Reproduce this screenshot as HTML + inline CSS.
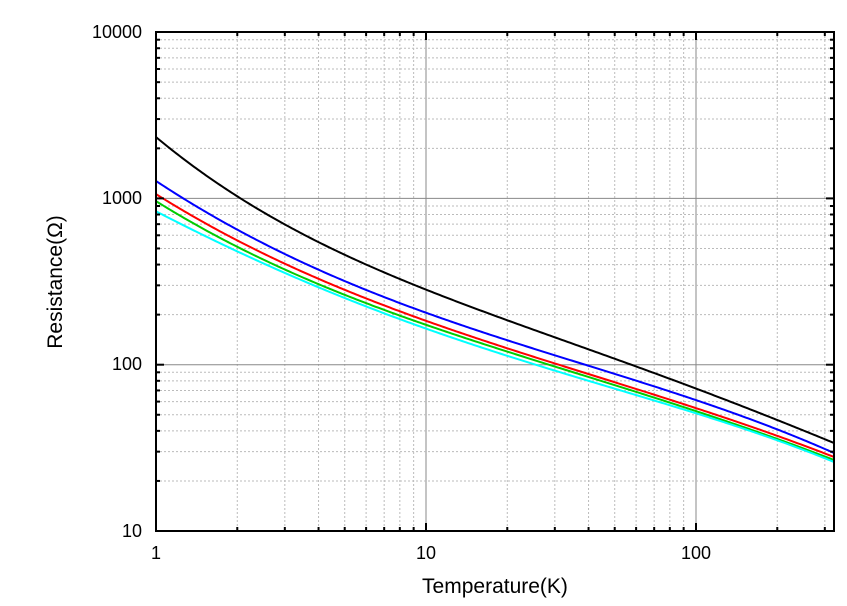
<!DOCTYPE html>
<html><head><meta charset="utf-8"><style>
body{margin:0;background:#fff;}
svg{display:block;font-family:"Liberation Sans",sans-serif;}
</style></head><body>
<svg id="s" width="847" height="606" viewBox="0 0 847 606" xmlns="http://www.w3.org/2000/svg">
<rect width="847" height="606" fill="#fff"/>
<g id="grid"></g>
<g id="curves" fill="none" stroke-width="2"></g>
<rect x="156" y="32" width="678" height="499" fill="none" stroke="#000" stroke-width="2"/>
<g id="ticks" stroke="#000" stroke-width="2"></g>
<g font-size="18" fill="#000" text-anchor="end">
<text x="142" y="38">10000</text>
<text x="142" y="204">1000</text>
<text x="142" y="370">100</text>
<text x="142" y="537">10</text>
</g>
<g font-size="18" fill="#000" text-anchor="middle">
<text x="156" y="559">1</text>
<text x="426" y="559">10</text>
<text x="696" y="559">100</text>
</g>
<text x="495" y="593" font-size="21" text-anchor="middle">Temperature(K)</text>
<text transform="translate(62,282) rotate(-90)" font-size="21" text-anchor="middle">Resistance(Ω)</text>
</svg>
<script>
var NS="http://www.w3.org/2000/svg";
function el(p,t,a){var e=document.createElementNS(NS,t);for(var k in a)e.setAttribute(k,a[k]);p.appendChild(e);return e;}
var X0=156,DX=270,Y0=531,DY=166.3,XR=834,YT=32;
var g=document.getElementById('grid'),tk=document.getElementById('ticks');
for(var d=0;d<3;d++)for(var m=1;m<10;m++){
 var x=X0+DX*(d+Math.log10(m));if(x>XR)continue;
 if(m==1){ if(d>0){el(g,'line',{x1:x,x2:x,y1:YT,y2:Y0,stroke:'#888','stroke-width':1});}
   el(tk,'line',{x1:x,x2:x,y1:Y0,y2:Y0-8});el(tk,'line',{x1:x,x2:x,y1:YT,y2:YT+8});}
 else{el(g,'line',{x1:x,x2:x,y1:YT,y2:Y0,stroke:'#bbb','stroke-width':1,'stroke-dasharray':'2,2'});
   el(tk,'line',{x1:x,x2:x,y1:Y0,y2:Y0-4});el(tk,'line',{x1:x,x2:x,y1:YT,y2:YT+4});}
}
for(var d=0;d<3;d++)for(var m=1;m<10;m++){
 var y=Y0-DY*(d+Math.log10(m));
 if(m==1){ if(d>0){el(g,'line',{x1:X0,x2:XR,y1:y,y2:y,stroke:'#888','stroke-width':1});}
   el(tk,'line',{x1:X0,x2:X0+8,y1:y,y2:y});el(tk,'line',{x1:XR,x2:XR-8,y1:y,y2:y});}
 else{el(g,'line',{x1:X0,x2:XR,y1:y,y2:y,stroke:'#bbb','stroke-width':1,'stroke-dasharray':'2,2'});
   el(tk,'line',{x1:X0,x2:X0+4,y1:y,y2:y});el(tk,'line',{x1:XR,x2:XR-4,y1:y,y2:y});}
}
var xs=[156,203,230,285,345,426,560,696,834];
var curves=[
 ['#000',[137,173,193,225,253,290,340,388,443]],
 ['#00f',[181,209,228,253,281,313,357,400,453]],
 ['#f00',[194,222,239,262,289,322,365,408,457]],
 ['#0c0',[201,229,245,268,294,326,368,411,460]],
 ['#0ff',[211,237,252,268,297,331,372,413,462]]];
function fit(xs,ys,deg){
 var n=deg+1,A=[],b=[];
 for(var i=0;i<n;i++){A.push(new Array(n).fill(0));b.push(0);}
 for(var k=0;k<xs.length;k++){var t=(xs[k]-156)/678,w=(k==0||k==xs.length-1)?6:1;
  for(var i=0;i<n;i++){b[i]+=w*ys[k]*Math.pow(t,i);for(var j=0;j<n;j++)A[i][j]+=w*Math.pow(t,i+j);}}
 for(var i=0;i<n;i++){for(var r=i+1;r<n;r++){var f=A[r][i]/A[i][i];for(var j=i;j<n;j++)A[r][j]-=f*A[i][j];b[r]-=f*b[i];}}
 var c=new Array(n);
 for(var i=n-1;i>=0;i--){var s=b[i];for(var j=i+1;j<n;j++)s-=A[i][j]*c[j];c[i]=s/A[i][i];}
 return c;
}
var cg=document.getElementById('curves');
curves.forEach(function(cv){
 var co=fit(xs,cv[1],4),d='';
 for(var x=156;x<=834;x+=2){var t=(x-156)/678,y=0;for(var i=0;i<co.length;i++)y+=co[i]*Math.pow(t,i);
  d+=(x==156?'M':'L')+x+','+y.toFixed(2);}
 el(cg,'path',{d:d,stroke:cv[0]});
});
</script>
</body></html>
